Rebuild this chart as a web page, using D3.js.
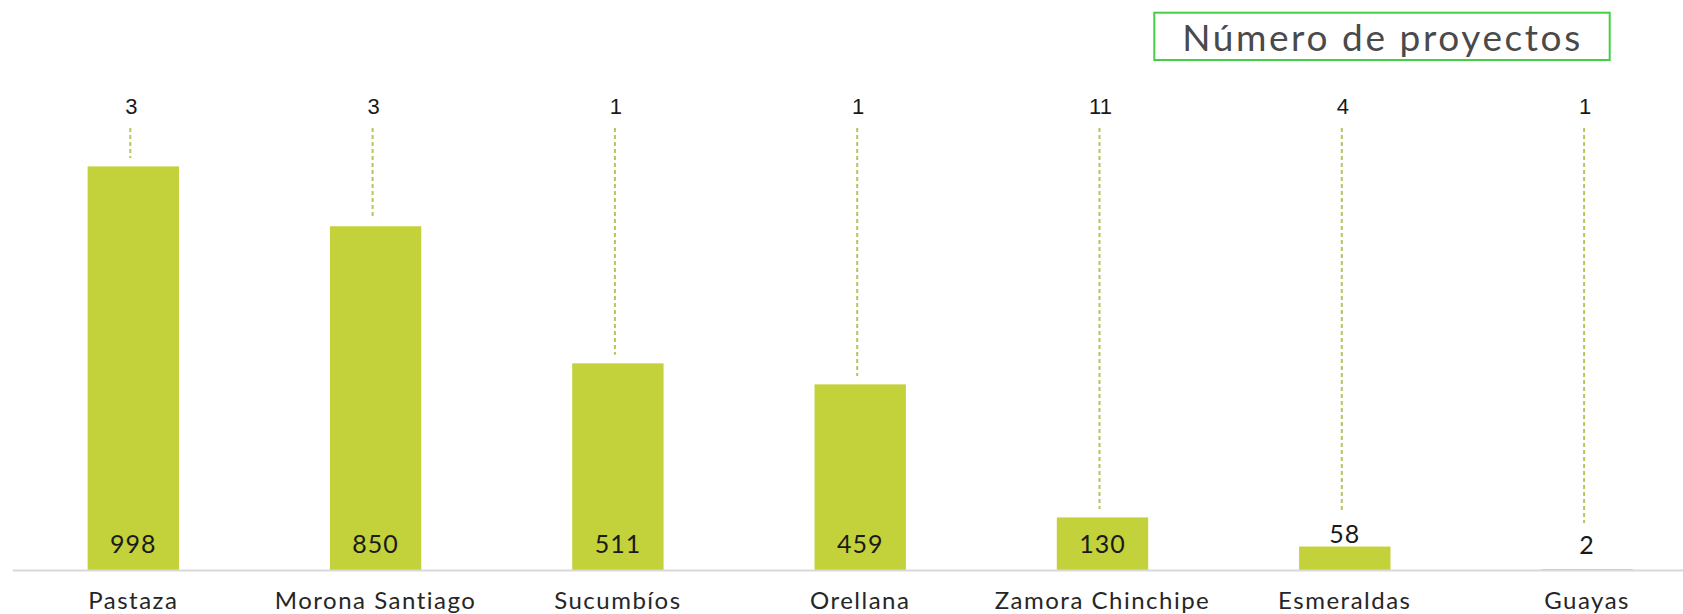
<!DOCTYPE html>
<html>
<head>
<meta charset="utf-8">
<script src="https://cdn.jsdelivr.net/npm/d3@7"></script>
<style>
  html, body { margin: 0; padding: 0; background: #ffffff; }
  svg { display: block; }
</style>
</head>
<body>
<svg id="chart" width="1683" height="614"></svg>
<script>
// ---- data ----
const provincias = ["Pastaza", "Morona Santiago", "Sucumbíos", "Orellana", "Zamora Chinchipe", "Esmeraldas", "Guayas"];
const valores = [998, 850, 511, 459, 130, 58, 2];
const proyectos = [3, 3, 1, 1, 11, 4, 1];
const leyenda = "Número de proyectos";

// ---- layout ----
const W = 1683, H = 614;
const baseY = 570;
const svg = d3.select("#chart");
const font = "Lato, 'DejaVu Sans', sans-serif";

const x = d3.scaleBand()
  .domain(provincias)
  .range([12.15, 12.15 + 242.3 * provincias.length])
  .paddingInner(0.623)
  .paddingOuter(0.3115);

const y = d3.scaleLinear()
  .domain([0, 998])
  .range([baseY, 166.4]);

const barColor = "#C3D13A";
const dashColor = "#B4C55E";
const cx = i => x(provincias[i]) + x.bandwidth() / 2;
const inside = d => baseY - y(d) > 30;
const labelY = d => (inside(d) ? baseY - 17 : Math.min(baseY - 16, y(d) - 4));

// bars
svg.append("g").selectAll("rect")
  .data(valores)
  .join("rect")
  .attr("x", (d, i) => x(provincias[i]))
  .attr("y", d => y(d))
  .attr("width", x.bandwidth())
  .attr("height", d => baseY - y(d))
  .attr("fill", barColor);

// axis (baseline + category labels)
const axis = d3.axisBottom(x).tickSize(0).tickPadding(22);
const gAxis = svg.append("g")
  .attr("transform", `translate(0,${baseY})`)
  .call(axis);
gAxis.select(".domain").remove();
gAxis.selectAll("text")
  .attr("font-family", font)
  .attr("font-size", 24)
  .attr("letter-spacing", "1.5px")
  .attr("fill", "#262626")
  .attr("dy", "0.71em");
svg.append("line")
  .attr("x1", 12.7).attr("x2", W)
  .attr("y1", baseY + 0.5).attr("y2", baseY + 0.5)
  .attr("stroke", "#d9d9d9")
  .attr("stroke-width", 2);

// value labels
svg.append("g").selectAll("text")
  .data(valores)
  .join("text")
  .attr("x", (d, i) => cx(i))
  .attr("y", d => labelY(d))
  .attr("text-anchor", "middle")
  .attr("font-family", font)
  .attr("font-size", 25)
  .attr("letter-spacing", "1px")
  .attr("fill", "#1a1a1a")
  .text(d => d);

// project count leader lines and labels
const labelBase = 114;
svg.append("g").selectAll("line")
  .data(valores)
  .join("line")
  .attr("x1", (d, i) => cx(i) - 3)
  .attr("x2", (d, i) => cx(i) - 3)
  .attr("y1", 128)
  .attr("y2", d => (inside(d) ? y(d) - 8.5 : labelY(d) - 18 - 13))
  .attr("stroke", dashColor)
  .attr("stroke-width", 2)
  .attr("stroke-dasharray", "4,3");

svg.append("g").selectAll("text")
  .data(proyectos)
  .join("text")
  .attr("x", (d, i) => cx(i) - 2)
  .attr("y", labelBase)
  .attr("text-anchor", "middle")
  .attr("font-family", "'Liberation Sans Narrow', 'Liberation Sans', sans-serif")
  .attr("font-size", 22)
  .attr("fill", "#1a1a1a")
  .text(d => d);

// legend box
const lg = svg.append("g");
lg.append("rect")
  .attr("x", 1154.3).attr("y", 12.7)
  .attr("width", 455.4).attr("height", 47.3)
  .attr("fill", "none")
  .attr("stroke", "#45CF45")
  .attr("stroke-width", 2);
lg.append("text")
  .attr("x", 1382.5).attr("y", 50.5)
  .attr("text-anchor", "middle")
  .attr("font-family", font)
  .attr("font-size", 37)
  .attr("letter-spacing", "2.6px")
  .attr("fill", "#4a4a4a")
  .text(leyenda);
</script>
</body>
</html>
